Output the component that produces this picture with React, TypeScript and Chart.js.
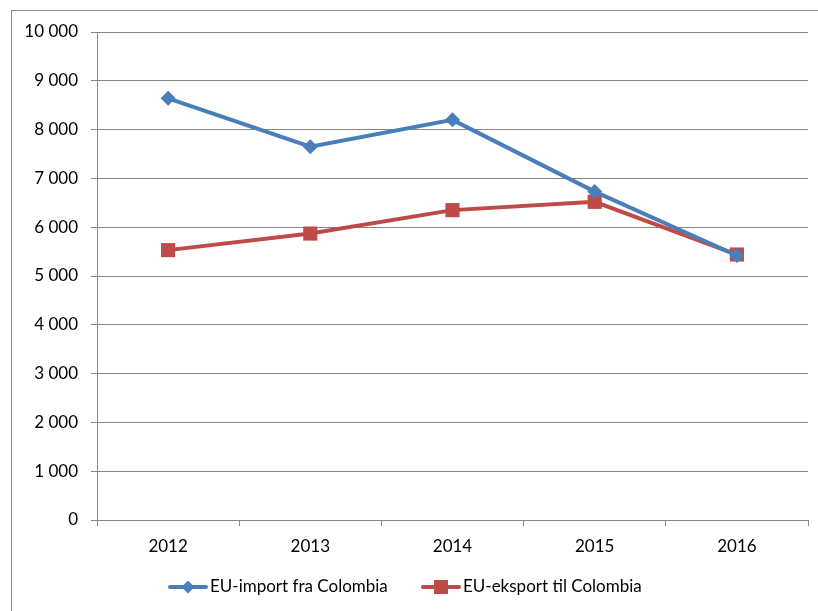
import React, { useEffect, useRef } from "react";
import { Chart, registerables } from "chart.js";

Chart.register(...registerables);

const categories = ["2012", "2013", "2014", "2015", "2016"];
const importValues = [8640, 7650, 8200, 6730, 5420];
const exportValues = [5530, 5870, 6350, 6520, 5440];
const seriesLabels = ["EU-import fra Colombia", "EU-eksport til Colombia"];

const BLUE = "#4A7EBB";
const RED = "#BE4B48";
const GRID = "#868686";
const FONT = "Lato, 'Open Sans', sans-serif";

const legendPlugin = {
  id: "lineLegend",
  afterDraw(chart: any) {
    const ctx = chart.ctx;
    const y = 587;
    const items = [
      { x: 170, ds: chart.data.datasets[0] },
      { x: 423, ds: chart.data.datasets[1] },
    ];
    ctx.save();
    ctx.font = `17px ${FONT}`;
    ctx.textBaseline = "middle";
    ctx.textAlign = "left";
    for (const it of items) {
      const ds = it.ds;
      ctx.strokeStyle = ds.borderColor;
      ctx.lineWidth = 4;
      ctx.lineCap = "round";
      ctx.beginPath();
      ctx.moveTo(it.x, y);
      ctx.lineTo(it.x + 36, y);
      ctx.stroke();
      ctx.fillStyle = ds.pointBackgroundColor;
      const cx = it.x + 18;
      if (ds.pointStyle === "rectRot") {
        const r = 6.5;
        ctx.beginPath();
        ctx.moveTo(cx, y - r);
        ctx.lineTo(cx + r, y);
        ctx.lineTo(cx, y + r);
        ctx.lineTo(cx - r, y);
        ctx.closePath();
        ctx.fill();
      } else {
        const s = 7;
        ctx.fillRect(cx - s, y - s, 2 * s, 2 * s);
      }
      ctx.fillStyle = "#000";
      ctx.fillText(ds.label, it.x + 40, y);
    }
    ctx.restore();
  },
};

export default function App() {
  const ref = useRef<HTMLCanvasElement>(null);
  useEffect(() => {
    if (!ref.current) return;
    const chart = new Chart(ref.current, {
      type: "line",
      data: {
        labels: categories,
        datasets: [
          {
            label: seriesLabels[0],
            data: importValues,
            borderColor: BLUE,
            backgroundColor: BLUE,
            pointBackgroundColor: BLUE,
            pointBorderColor: BLUE,
            pointStyle: "rectRot",
            pointRadius: 7.5,
            pointBorderWidth: 0,
            borderWidth: 4,
            tension: 0,
          },
          {
            label: seriesLabels[1],
            data: exportValues,
            borderColor: RED,
            backgroundColor: RED,
            pointBackgroundColor: RED,
            pointBorderColor: RED,
            pointStyle: "rect",
            pointRadius: 10,
            pointBorderWidth: 0,
            borderWidth: 4,
            tension: 0,
          },
        ],
      },
      options: {
        responsive: false,
        animation: false,
        devicePixelRatio: 1,
        layout: { padding: { top: 32, right: 9, bottom: 45, left: 0 } },
        plugins: {
          legend: { display: false },
          tooltip: { enabled: false },
        },
        scales: {
          x: {
            offset: true,
            grid: {
              display: true,
              drawOnChartArea: false,
              drawTicks: true,
              tickLength: 6,
              offset: true,
              color: GRID,
            },
            border: { display: true, color: GRID, width: 1 },
            ticks: {
              color: "#000",
              font: { family: FONT, size: 17 },
              padding: 10,
              maxRotation: 0,
            },
            afterFit(scale: any) {
              scale.height = 46;
            },
          },
          y: {
            min: 0,
            max: 10000,
            ticks: {
              stepSize: 1000,
              color: "#000",
              font: { family: FONT, size: 17 },
              padding: 13,
              callback: (v: any) =>
                String(v).replace(/\B(?=(\d{3})+(?!\d))/g, " "),
            },
            grid: {
              color: GRID,
              tickLength: 6,
              lineWidth: 1,
            },
            border: { display: true, color: GRID, width: 1 },
            afterFit(scale: any) {
              scale.width = 97;
            },
          },
        },
      },
      plugins: [legendPlugin],
    });
    return () => chart.destroy();
  }, []);

  return (
    <div
      style={{
        position: "absolute",
        left: 0,
        top: 0,
        width: 818,
        height: 611,
        background: "#fff",
        overflow: "hidden",
      }}
    >
      <div
        style={{
          position: "absolute",
          left: 11,
          top: 10,
          width: 900,
          height: 700,
          borderLeft: "1px solid #8a8a8a",
          borderTop: "1px solid #8a8a8a",
        }}
      />
      <canvas
        ref={ref}
        width={818}
        height={611}
        style={{ position: "absolute", left: 0, top: 0, width: 818, height: 611 }}
      />
    </div>
  );
}
